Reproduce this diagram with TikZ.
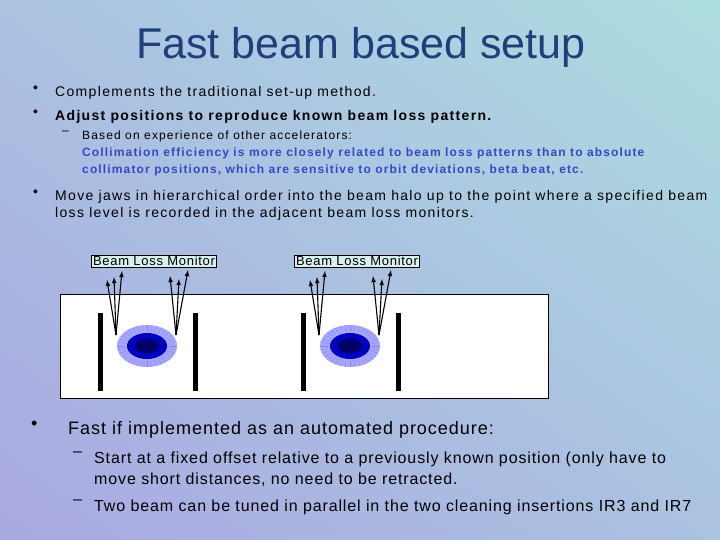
\documentclass[tikz,border=0pt]{standalone}
\usepackage{fontspec}
\usetikzlibrary{shadings}
\setmainfont[LetterSpace=9.5]{Liberation Sans}
\newfontfamily\plainsf{Liberation Sans}
\newfontfamily\midsf[LetterSpace=5.5]{Liberation Sans}
\definecolor{bgA}{HTML}{A9A8E2}
\definecolor{bgB}{HTML}{ADDDE0}
\definecolor{bgM}{HTML}{ABC2E1}
\definecolor{ttl}{HTML}{1E3F7A}
\definecolor{sub}{HTML}{3448C4}
\definecolor{lbl}{HTML}{D8F0EE}
\begin{document}
\begin{tikzpicture}[x=1pt,y=-1pt,
  body/.style={anchor=north west,inner sep=0pt,align=left,font=\fontsize{14}{17}\selectfont},
  big/.style={anchor=north west,inner sep=0pt,align=left,font=\midsf\fontsize{18}{21}\selectfont},
  mid/.style={anchor=north west,inner sep=0pt,align=left,font=\midsf\fontsize{16}{21}\selectfont},
  small/.style={anchor=north west,inner sep=0pt,align=left,font=\fontsize{12}{17}\selectfont},
  blm/.style={draw=black,fill=lbl,inner sep=1.5pt,font=\midsf\fontsize{13}{14}\selectfont},
  jaw/.style={line width=5pt},
  arr/.style={-latex,line width=1.1pt}]
\shade[upper right=bgB,lower left=bgA,upper left=bgM,lower right=bgM] (0,0) rectangle (720,540);
\path[use as bounding box] (0,0) rectangle (720,540);
\node[text=ttl,font=\plainsf\fontsize{43}{45}\selectfont] (title) at (361,47) {Fast beam based setup};
\node[body] (b1s) at (33,86) {•};
\node[body] (b1) at (55,86) {Complements the traditional set-up method.};
\node[body] (b2s) at (33,110) {•};
\node[body,font=\bfseries\fontsize{14}{17}\selectfont] (b2) at (55,110) {Adjust positions to reproduce known beam loss pattern.};
\node[small] (d1s) at (62,131) {–};
\node[small] (d1) at (82,131) {Based on experience of other accelerators:\\
\textcolor{sub}{\bfseries Collimation efficiency is more closely related to beam loss patterns than to absolute}\\
\textcolor{sub}{\bfseries collimator positions, which are sensitive to orbit deviations, beta beat, etc.}};
\node[body] (b3s) at (33,190) {•};
\node[body] (b3) at (55,190) {Move jaws in hierarchical order into the beam halo up to the point where a specified beam\\loss level is recorded in the adjacent beam loss monitors.};
% setup box
\node[draw=black,fill=white,minimum width=488pt,minimum height=104pt,anchor=north west,inner sep=0pt] (box) at (60,294) {};
\foreach \dx/\n in {0/a,203/b}{
  \begin{scope}[xshift=\dx]
  \draw[jaw] (100,313) -- (100,391);
  \draw[jaw] (195,313) -- (195,391);
  \fill[blue!35] (147,346) ellipse (30 and 21);
  \foreach \a in {0,10,...,350} \draw[blue!50,line width=0.3pt] (147,346)+(\a:22 and 15) -- +(\a:30 and 21);
  \fill[blue!75!black] (147,346) ellipse (20 and 13);
  \fill[blue!40!black] (147,346) ellipse (12 and 7);
  \coordinate (l\n) at (116,335);
  \coordinate (r\n) at (176,335);
  \coordinate (t1\n) at (107,280); \coordinate (t2\n) at (114,277); \coordinate (t3\n) at (122,271);
  \coordinate (t4\n) at (170,276); \coordinate (t5\n) at (179,279); \coordinate (t6\n) at (188,270);
  \foreach \t in {1,2,3} \draw[arr] (l\n) -- (t\t\n);
  \foreach \t in {4,5,6} \draw[arr] (r\n) -- (t\t\n);
  \end{scope}}
\node[blm] (m1) at (154,261) {Beam Loss Monitor};
\node[blm] (m2) at (357,261) {Beam Loss Monitor};
\node[big] (b4s) at (31,421) {•};
\node[big] (b4) at (68,421) {Fast if implemented as an automated procedure:};
\node[mid] (d2s) at (73,452) {–};
\node[mid] (d2) at (94,452) {Start at a fixed offset relative to a previously known position (only have to\\move short distances, no need to be retracted.};
\node[mid] (d3s) at (73,500) {–};
\node[mid] (d3) at (94,500) {Two beam can be tuned in parallel in the two cleaning insertions IR3 and IR7};
\end{tikzpicture}
\end{document}
